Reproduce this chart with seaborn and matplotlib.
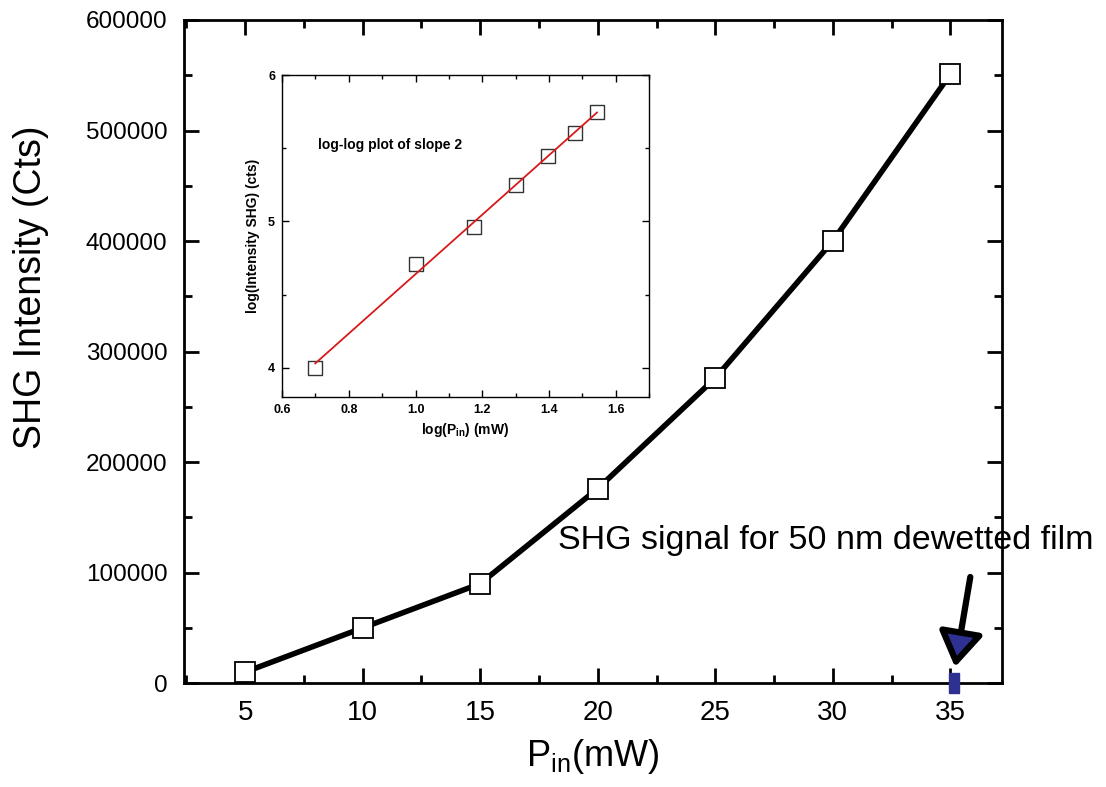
import matplotlib
matplotlib.use("Agg")
import matplotlib.pyplot as plt
from matplotlib.ticker import MultipleLocator, FormatStrFormatter
import seaborn as sns
import numpy as np
import pandas as pd

# ---- data ----
power_mw = [5, 10, 15, 20, 25, 30, 35]
shg_counts = [10000, 50000, 90000, 176000, 276000, 400000, 551000]

dewet_power = [35.17]
dewet_counts = [0]

log_power = [0.699, 1.0, 1.176, 1.301, 1.398, 1.477, 1.544]
log_counts = [4.0, 4.71, 4.96, 5.25, 5.445, 5.605, 5.747]

annotation_text = "SHG signal for 50 nm dewetted film"
inset_text = "log-log plot of slope 2"

sns.set_theme(style="ticks")
plt.rcParams['font.family'] = ['Liberation Sans', 'DejaVu Sans']
plt.rcParams['mathtext.fontset'] = 'custom'
plt.rcParams['mathtext.rm'] = 'Liberation Sans'
plt.rcParams['mathtext.bf'] = 'Liberation Sans:bold'
for k in ['text.color', 'axes.labelcolor', 'xtick.color', 'ytick.color',
          'axes.edgecolor']:
    plt.rcParams[k] = 'black'

main_df = pd.DataFrame({"P": power_mw, "I": shg_counts})
log_df = pd.DataFrame({"lp": log_power, "li": log_counts})

fig = plt.figure(figsize=(11.06, 7.87), dpi=100)
ax = fig.add_axes([0.1664, 0.132, 0.7396, 0.8426])

sns.lineplot(data=main_df, x="P", y="I", ax=ax, color="black", lw=4,
             marker="s", markersize=14, markerfacecolor="white",
             markeredgecolor="black", markeredgewidth=1.3, zorder=3)

rect_marker = [(-0.5, -1), (0.5, -1), (0.5, 1), (-0.5, 1), (-0.5, -1)]
ax.plot(dewet_power, dewet_counts, linestyle="none", marker=rect_marker,
        markersize=14, color="#2e3192", markeredgecolor="#2e3192",
        clip_on=False, zorder=4)

ax.set_xlim(2.4, 37.2)
ax.set_ylim(0, 600000)
ax.xaxis.set_major_locator(MultipleLocator(5))
ax.xaxis.set_minor_locator(MultipleLocator(2.5))
ax.yaxis.set_major_locator(MultipleLocator(100000))
ax.yaxis.set_minor_locator(MultipleLocator(50000))
ax.yaxis.set_major_formatter(FormatStrFormatter('%d'))
ax.tick_params(which="both", direction="in", top=True, right=True, width=2)
ax.tick_params(which="major", length=11)
ax.tick_params(which="minor", length=6)
ax.tick_params(axis="y", labelsize=17.5, pad=12)
ax.tick_params(axis="x", labelsize=20, pad=12)
for s in ax.spines.values():
    s.set_linewidth(2)
ax.set_xlabel("P$_{\\rm in}$(mW)", fontsize=26, labelpad=8)
ax.set_ylabel("SHG Intensity (Cts)", fontsize=27)
ax.yaxis.set_label_coords(-0.165, 0.597)

ax.annotate("", xy=(35.2, 14500), xytext=(35.85, 96000),
            arrowprops=dict(arrowstyle="-|>,head_length=0.7,head_width=0.45",
                            lw=4.5, edgecolor="black", facecolor="#2e3192",
                            mutation_scale=30, shrinkA=0, shrinkB=0),
            annotation_clip=False, zorder=5)
ax.text(18.3, 129000, annotation_text, fontsize=24.5, ha="left", va="center",
        zorder=6)

# ---- inset ----
ins = fig.add_axes([0.255, 0.4956, 0.332, 0.4091])
sns.regplot(data=log_df, x="lp", y="li", ax=ins, ci=None, marker="s",
            scatter_kws=dict(s=110, facecolors="white", edgecolors="black",
                             linewidths=1.0, zorder=2),
            line_kws=dict(color="#d7191c", lw=1.3, zorder=3))
ins.set_xlim(0.6, 1.7)
ins.set_ylim(3.8, 6.0)
ins.xaxis.set_major_locator(MultipleLocator(0.2))
ins.xaxis.set_minor_locator(MultipleLocator(0.1))
ins.yaxis.set_major_locator(MultipleLocator(1))
ins.yaxis.set_minor_locator(MultipleLocator(0.5))
ins.xaxis.set_major_formatter(FormatStrFormatter('%.1f'))
ins.tick_params(which="both", direction="in", top=True, right=True, width=1,
                labelsize=9, pad=5)
ins.tick_params(which="major", length=5)
ins.tick_params(which="minor", length=3)
for lbl in ins.get_xticklabels() + ins.get_yticklabels():
    lbl.set_fontweight("bold")
for s in ins.spines.values():
    s.set_linewidth(1)
ins.set_xlabel("log(P$_{\\bf in}$) (mW)", fontsize=10, fontweight="bold", labelpad=4)
ins.set_ylabel("log(Intensity SHG) (cts)", fontsize=10, fontweight="bold", labelpad=6)
ins.text(0.707, 5.52, inset_text, fontsize=10, fontweight="bold",
         ha="left", va="center")

fig.savefig("out.png", dpi=100)
